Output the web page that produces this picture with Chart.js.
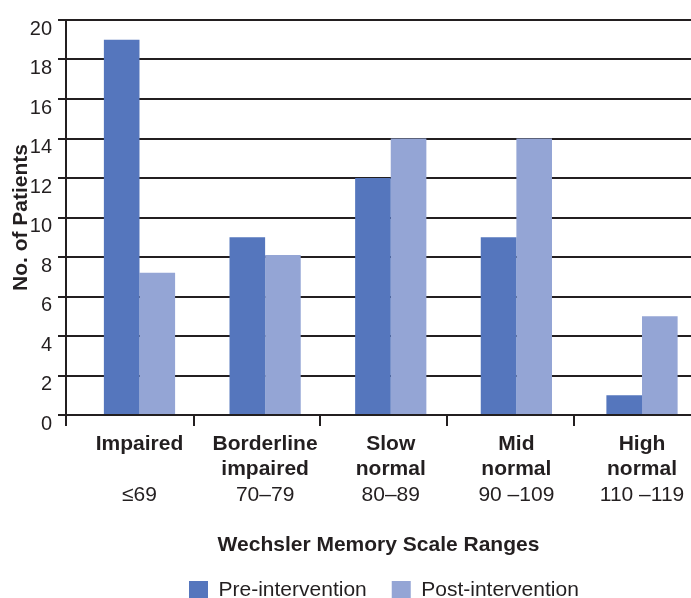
<!DOCTYPE html>
<html>
<head>
<meta charset="utf-8">
<script src="https://cdn.jsdelivr.net/npm/chart.js@4.4.1/dist/chart.umd.min.js"></script>
<style>
  html, body { margin: 0; padding: 0; background: #fff; }
  #wrap { width: 691px; height: 598px; }
</style>
</head>
<body>
<div id="wrap"><canvas id="memoryChart"></canvas></div>
<script>
// values
const categories = [['Impaired'], ['Borderline', 'impaired'], ['Slow', 'normal'], ['Mid', 'normal'], ['High', 'normal']];
const ranges = ['≤69', '70–79', '80–89', '90 –109', '110 –119'];
const preIntervention = [19, 9, 12, 9, 1];
const postIntervention = [7.2, 8.1, 14, 14, 5];
const yMax = 20;
const yStep = 2;

const ink = '#231f20';
const FONT = '"Liberation Sans", Arial, Helvetica, sans-serif';

// category text under each group: bold name lines + normal range line
const categoryLabels = {
  id: 'categoryLabels',
  afterDraw(chart) {
    const xs = chart.scales.x;
    const base = chart.chartArea.bottom;
    const ctx = chart.ctx;
    ctx.save();
    ctx.fillStyle = ink;
    ctx.textAlign = 'center';
    ctx.textBaseline = 'middle';
    categories.forEach((lines, i) => {
      const px = xs.getPixelForValue(i);
      ctx.font = 'bold 21px ' + FONT;
      lines.forEach((t, j) => ctx.fillText(t, px, base + 29 + j * 25));
      ctx.font = '21px ' + FONT;
      ctx.fillText(ranges[i], px, base + 80);
    });
    ctx.restore();
  }
};

// the legend in the figure sits a bit right of centre and lower
const legendNudge = {
  id: 'legendNudge',
  afterLayout(chart) {
    const lg = chart.legend;
    if (!lg || !lg.lineWidths) return;
    const pad = lg.options.labels.padding;
    const start = (lg.left + pad + lg.right - lg.lineWidths[0]) / 2;
    const dx = 189 - start;
    const dy = 13;
    lg.left += dx; lg.right += dx;
    lg.top += dy; lg.bottom += dy;
  }
};

new Chart(document.getElementById('memoryChart'), {
  type: 'bar',
  data: {
    datasets: [{
      label: 'Pre-intervention',
      data: preIntervention.map((v, i) => ({ x: i, y: v })),
      backgroundColor: '#5576bd'
    }, {
      label: 'Post-intervention',
      data: postIntervention.map((v, i) => ({ x: i, y: v })),
      backgroundColor: '#94a5d5'
    }]
  },
  options: {
    responsive: true,
    maintainAspectRatio: false,
    animation: false,
    layout: { padding: { top: 20, right: 0, left: 0, bottom: 0 } },
    datasets: { bar: { categoryPercentage: 0.567, barPercentage: 1, borderWidth: 0 } },
    scales: {
      x: {
        type: 'linear',
        offset: false,
        bounds: 'data',
        min: -0.585,
        max: 4.39,
        afterBuildTicks: s => { s.ticks = [-0.585, 0.43, 1.44, 2.45, 3.46].map(v => ({ value: v })); },
        afterFit: s => { s.height = 127; },
        ticks: { display: false },
        grid: { offset: false, drawOnChartArea: false, drawTicks: true, tickLength: 11, color: ink, lineWidth: 2 },
        border: { display: true, color: ink, width: 2 },
        title: {
          display: true,
          text: 'Wechsler Memory Scale Ranges',
          color: ink,
          font: { family: FONT, size: 21, weight: 'bold' },
          padding: { top: 0, bottom: -16 }
        }
      },
      y: {
        min: 0,
        max: yMax,
        afterFit: s => { s.width = 66; },
        ticks: { stepSize: yStep, color: ink, font: { family: FONT, size: 20 }, padding: 6, labelOffset: 9 },
        grid: { color: ink, lineWidth: 2, tickLength: 8 },
        border: { display: true, color: ink, width: 2 },
        title: {
          display: true,
          text: 'No. of Patients',
          color: ink,
          font: { family: FONT, size: 21, weight: 'bold' },
          padding: { top: 9, bottom: 0 }
        }
      }
    },
    plugins: {
      tooltip: { enabled: false },
      legend: {
        position: 'bottom',
        labels: { color: ink, font: { family: FONT, size: 21 }, boxWidth: 19, boxHeight: 19, padding: 25 }
      }
    }
  },
  plugins: [categoryLabels, legendNudge]
});
</script>
</body>
</html>
